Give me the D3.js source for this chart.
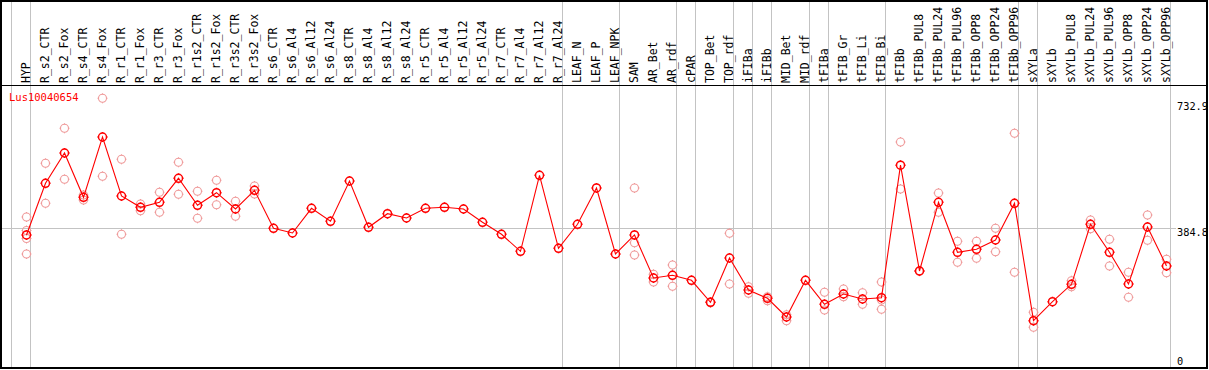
<!DOCTYPE html>
<html>
<head>
<meta charset="utf-8">
<title>Lus10040654</title>
<script type="text/javascript" src="https://d3js.org/d3.v7.min.js"></script>
<style type="text/css">
  body { margin: 0; background: white; }
  .head_text { font-family: "DejaVu Sans Mono", monospace; font-size: 11.5px; fill: black; }
  .axis_text { font-family: "DejaVu Sans Mono", monospace; font-size: 10.3px; fill: black; }
  .gene_text { font-family: "DejaVu Sans Mono", monospace; font-size: 10.5px; fill: red; }
</style>
</head>
<body>
<div class="chart"></div>
<script type="text/javascript">

var gene = "Lus10040654";

var samples = ["HYP", "R_s2_CTR", "R_s2_Fox", "R_s4_CTR", "R_s4_Fox", "R_r1_CTR", "R_r1_Fox",
  "R_r3_CTR", "R_r3_Fox", "R_r1s2_CTR", "R_r1s2_Fox", "R_r3s2_CTR", "R_r3s2_Fox",
  "R_s6_CTR", "R_s6_Al4", "R_s6_Al12", "R_s6_Al24", "R_s8_CTR", "R_s8_Al4", "R_s8_Al12", "R_s8_Al24",
  "R_r5_CTR", "R_r5_Al4", "R_r5_Al12", "R_r5_Al24", "R_r7_CTR", "R_r7_Al4", "R_r7_Al12", "R_r7_Al24",
  "LEAF_N", "LEAF_P", "LEAF_NPK", "SAM", "AR_Bet", "AR_rdf", "cPAR", "TOP_Bet", "TOP_rdf",
  "iFIBa", "iFIBb", "MID_Bet", "MID_rdf", "tFIBa", "tFIB_Gr", "tFIB_Li", "tFIB_Bi",
  "tFIBb", "tFIBb_PUL8", "tFIBb_PUL24", "tFIBb_PUL96", "tFIBb_OPP8", "tFIBb_OPP24", "tFIBb_OPP96",
  "sXYLa", "sXYLb", "sXYLb_PUL8", "sXYLb_PUL24", "sXYLb_PUL96", "sXYLb_OPP8", "sXYLb_OPP24", "sXYLb_OPP96"];

// mean expression per sample
var means = [366.5, 508.9, 592.4, 470.3, 636.5, 473.9, 442.8,
  456.5, 522.7, 448.3, 483.0, 438.1, 489.6,
  384.9, 372.0, 440.0, 404.2, 515.2, 387.7, 425.1, 413.3,
  440.0, 442.8, 438.1, 401.4, 368.4, 321.5, 531.0, 329.8,
  395.9, 496.0, 314.1, 366.5, 248.0, 255.4, 241.6, 181.0, 303.1,
  214.9, 192.0, 140.5, 241.6, 175.5, 203.9, 190.1, 193.7,
  558.8, 267.3, 456.5, 318.8, 327.1, 352.7, 453.8,
  130.3, 182.7, 230.6, 395.9, 318.8, 231.4, 388.5, 281.0];

// replicate values per sample (empty = single sample)
var reps = [[416.1, 378.9, 356.8, 314.1], [564.0, 453.8], [660.5, 519.9], [476.7, 462.9], [743.1, 528.2],
  [575.0, 368.4], [451.9, 433.4], [484.1, 429.0], [566.8, 478.6], [486.9, 412.5], [517.2, 449.9],
  [459.3, 418.0], [501.5, 479.4],
  [], [], [], [], [], [], [], [], [], [], [], [], [], [], [], [],
  [], [], [],
  [496.0, 345.2, 311.3], [258.2, 237.0], [283.8, 225.1], [], [181.5, 180.0], [371.1, 231.4],
  [224.0, 205.8], [196.5, 185.4], [146.9, 130.3], [], [208.6, 159.8], [217.7, 196.5], [207.5, 175.5],
  [237.0, 187.4, 161.7],
  [622.7, 493.2], [268.0, 266.5], [482.2, 429.0], [349.1, 291.2], [349.1, 302.3], [384.9, 320.4], [646.7, 263.7],
  [153.5, 112.1], [], [240.5, 224.0], [407.8, 383.8], [354.6, 281.0], [263.7, 194.8], [421.6, 351.9], [299.5, 262.6]];

// first sample of each tissue group
var groupStarts = ["HYP", "R_s2_CTR", "LEAF_N", "SAM", "cPAR", "TOP_Bet", "iFIBa", "iFIBb",
  "MID_Bet", "tFIBa", "tFIB_Gr", "tFIBb", "sXYLa", "sXYLb"];

var yTicks = [0, 384.8, 732.9];
var refLine = 384.8;

var w = 1209, h = 370;
var headH = 85, bottom = 368;

var svg = d3.select(".chart").append("svg").attr("width", w).attr("height", h);

var x = d3.scaleBand().domain(samples).range([11.5, 11.5 + 19 * samples.length]);
var y = d3.scaleLinear().domain([0, 732.9]).range([bottom, 102]);
var xEnd = x.range()[1];

function cx(s) { return x(s) + 15; }

// group separators
svg.selectAll(".sep").data(groupStarts.concat(["END"])).enter().append("line")
  .attr("x1", function(d) { return d == "END" ? xEnd : x(d); })
  .attr("x2", function(d) { return d == "END" ? xEnd : x(d); })
  .attr("y1", 0).attr("y2", bottom)
  .attr("stroke", "#c3c3c3").attr("stroke-width", 1);

// reference line
svg.append("line")
  .attr("x1", 1).attr("x2", 1176)
  .attr("y1", Math.round(y(refLine)) + 0.5).attr("y2", Math.round(y(refLine)) + 0.5)
  .attr("stroke", "#c3c3c3").attr("stroke-width", 1);

// sample labels
svg.selectAll(".head_text").data(samples).enter().append("text")
  .attr("class", "head_text")
  .attr("transform", function(d) { return "translate(" + (x(d) + 18) + "," + (headH - 2) + ") rotate(-90)"; })
  .text(function(d) { return d; });

// frame
svg.append("rect").attr("x", 1).attr("y", 1).attr("width", 1206).attr("height", 367)
  .attr("fill", "none").attr("stroke", "black").attr("stroke-width", 2);
svg.append("line").attr("x1", 1).attr("x2", 1208).attr("y1", headH + 0.5).attr("y2", headH + 0.5)
  .attr("stroke", "black").attr("stroke-width", 1.2);

// y labels
svg.selectAll(".axis_text").data(yTicks).enter().append("text")
  .attr("class", "axis_text")
  .attr("x", 1177)
  .attr("y", function(d) { return Math.min(y(d) + 8, 365); })
  .text(function(d) { return d == 0 ? "0" : d3.format(".1f")(d); });

svg.append("text").attr("class", "gene_text").attr("x", 9).attr("y", 100.5).text(gene);

function marker(g, px, py, color, sw) {
  g.append("circle").attr("cx", px).attr("cy", py).attr("r", 4)
    .attr("fill", "none").attr("stroke", color).attr("stroke-width", sw);
  [[0, -1], [0, 1], [-1, 0], [1, 0]].forEach(function(v) {
    g.append("line")
      .attr("x1", px + v[0] * 4).attr("y1", py + v[1] * 4)
      .attr("x2", px + v[0] * 5).attr("y2", py + v[1] * 5)
      .attr("stroke", color).attr("stroke-width", sw);
  });
}

// replicates
var repG = svg.append("g");
samples.forEach(function(s, i) {
  reps[i].forEach(function(v) { marker(repG, cx(s), y(v), "#ef9a9a", 1.1); });
});

// mean line
var line = d3.line().x(function(d, i) { return cx(samples[i]); }).y(function(d) { return y(d); });
svg.append("path").datum(means).attr("d", line)
  .attr("fill", "none").attr("stroke", "red").attr("stroke-width", 1.1);

var meanG = svg.append("g");
samples.forEach(function(s, i) { marker(meanG, cx(s), y(means[i]), "red", 1.5); });

</script>
</body>
</html>
